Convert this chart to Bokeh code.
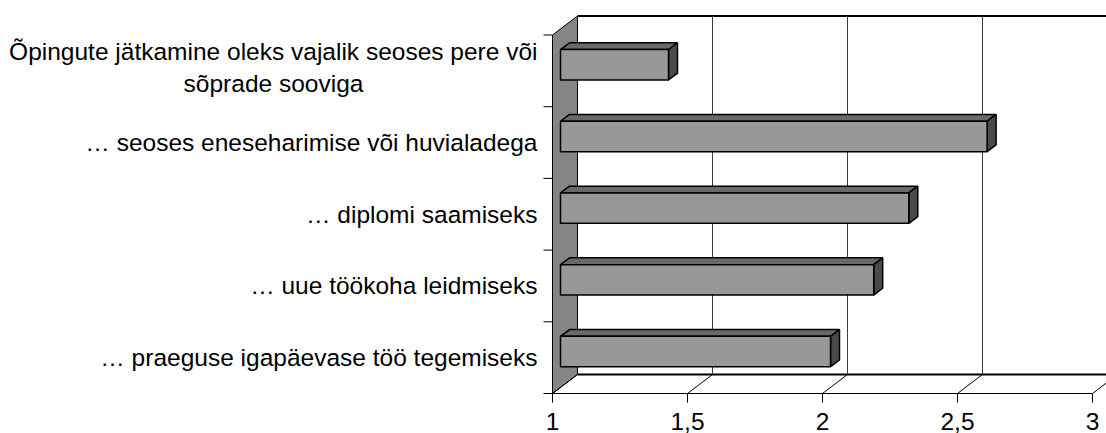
from bokeh.plotting import figure
from bokeh.models import FixedTicker
from bokeh.core.properties import value
from bokeh.embed import file_html
from bokeh.resources import INLINE

# ---------------- data ----------------
categories = [
    "… praeguse igapäevase töö tegemiseks",
    "… uue töökoha leidmiseks",
    "… diplomi saamiseks",
    "… seoses eneseharimise või huvialadega",
    "Õpingute jätkamine oleks vajalik seoses pere või\nsõprade sooviga",
]
values = [2.00, 2.16, 2.29, 2.58, 1.40]
x_ticks = [1, 1.5, 2, 2.5, 3]
x_tick_labels = ["1", "1,5", "2", "2,5", "3"]

# ---------------- layout / style ----------------
X_MIN, X_MAX = 1.0, 3.0
N = len(categories)
W, H = 1106, 433
TOP_PX = 8
PX_X = 270.0          # px per value unit
PX_Y = 71.7           # px per category band
FRAME_W, FRAME_H = W, 387
ORIGIN_PX = 552       # frame px of value 1 on front plane
FLOOR_PX = 2          # px between front floor line and frame bottom
DEPTH_X_PX, DEPTH_Y_PX = 25, 19
BAR_H = 0.424         # bar thickness, in category units
BAR_F, BAR_B = 0.32, 0.68   # bar front/back as fraction of depth
TICK_LEN = 9 / PX_X
FONT = value("Liberation Sans")
FSIZE = "24.5px"
LINE1_W = 528         # approx. px width of the first line of the wrapped label

x_start = X_MIN - ORIGIN_PX / PX_X
x_end = x_start + FRAME_W / PX_X
y_start = -FLOOR_PX / PX_Y
y_end = y_start + FRAME_H / PX_Y
DX = DEPTH_X_PX / PX_X
DY = DEPTH_Y_PX / PX_Y

p = figure(width=W, height=H,
           x_range=(x_start, x_end), y_range=(y_start, y_end),
           output_backend="svg", toolbar_location=None,
           y_axis_location=None, min_border_left=0, min_border_right=0,
           min_border_top=TOP_PX, min_border_bottom=H - TOP_PX - FRAME_H,
           background_fill_color="white", border_fill_color="white")
p.outline_line_color = None
p.xgrid.grid_line_color = None
p.ygrid.grid_line_color = None

# ---------------- walls ----------------
p.patch([X_MIN, X_MIN + DX, X_MIN + DX, X_MIN], [0, DY, N + DY, N],
        fill_color="#858585", line_color="black", line_width=1)
# back plane top edge & floor back edge
p.segment(x0=[X_MIN + DX, X_MIN + DX], y0=[N + DY, DY],
          x1=[X_MAX + DX, X_MAX + DX], y1=[N + DY, DY],
          line_color="black", line_width=2)
# back-wall gridlines
gx = [t + DX for t in x_ticks[1:]]
p.segment(x0=gx, y0=[DY] * len(gx), x1=gx, y1=[N + DY] * len(gx),
          line_color="#3a3a3a", line_width=1)
# floor front edge & diagonals
p.segment(x0=[X_MIN], y0=[0], x1=[X_MAX], y1=[0], line_color="black", line_width=1)
p.segment(x0=x_ticks, y0=[0] * len(x_ticks),
          x1=[t + DX for t in x_ticks], y1=[DY] * len(x_ticks),
          line_color="black", line_width=1)
# category ticks on the wall's front edge
ky = list(range(N + 1))
p.segment(x0=[X_MIN - TICK_LEN] * len(ky), y0=ky, x1=[X_MIN] * len(ky), y1=ky,
          line_color="black", line_width=1)

# ---------------- 3D bars ----------------
front_xs, front_ys, top_xs, top_ys, side_xs, side_ys = [], [], [], [], [], []
for i, v in enumerate(values):
    bot = i + 0.5 - BAR_H / 2
    top = i + 0.5 + BAR_H / 2
    fx, fy = BAR_F * DX, BAR_F * DY
    bx, by = BAR_B * DX, BAR_B * DY
    front_xs.append([X_MIN + fx, v + fx, v + fx, X_MIN + fx])
    front_ys.append([bot + fy, bot + fy, top + fy, top + fy])
    top_xs.append([X_MIN + fx, v + fx, v + bx, X_MIN + bx])
    top_ys.append([top + fy, top + fy, top + by, top + by])
    side_xs.append([v + fx, v + bx, v + bx, v + fx])
    side_ys.append([bot + fy, bot + by, top + by, top + fy])

p.patches(top_xs, top_ys, fill_color="#696969", line_color="black", line_width=1.5)
p.patches(side_xs, side_ys, fill_color="#4a4a4a", line_color="black", line_width=1.5)
p.patches(front_xs, front_ys, fill_color="#989898", line_color="black", line_width=1.5)

# ---------------- category labels ----------------
single = [(i, c) for i, c in enumerate(categories) if "\n" not in c]
p.text(x=[X_MIN] * len(single), y=[i + 0.5 for i, _ in single],
       text=[c for _, c in single], x_offset=-15,
       text_align="right", text_baseline="middle",
       text_font=FONT, text_font_size=FSIZE, text_color="black")
for i, c in enumerate(categories):
    if "\n" in c:
        l1, l2 = c.split("\n")
        p.text(x=[X_MIN], y=[i + 0.5], text=[l1], x_offset=-15, y_offset=-19,
               text_align="right", text_baseline="middle",
               text_font=FONT, text_font_size=FSIZE, text_color="black")
        p.text(x=[X_MIN], y=[i + 0.5], text=[l2], x_offset=-15 - LINE1_W / 2, y_offset=13,
               text_align="center", text_baseline="middle",
               text_font=FONT, text_font_size=FSIZE, text_color="black")

# ---------------- x axis ----------------
ax = p.xaxis[0]
ax.ticker = FixedTicker(ticks=x_ticks)
ax.major_label_overrides = {t: l for t, l in zip(x_ticks, x_tick_labels)}
ax.axis_line_color = None
ax.major_tick_in = FLOOR_PX
ax.major_tick_out = 7
ax.major_tick_line_color = "black"
ax.minor_tick_line_color = None
ax.major_label_standoff = 10
ax.major_label_text_font = "Liberation Sans"
ax.major_label_text_font_size = FSIZE
ax.major_label_text_color = "black"

open("out.html", "w").write(file_html(p, INLINE))
